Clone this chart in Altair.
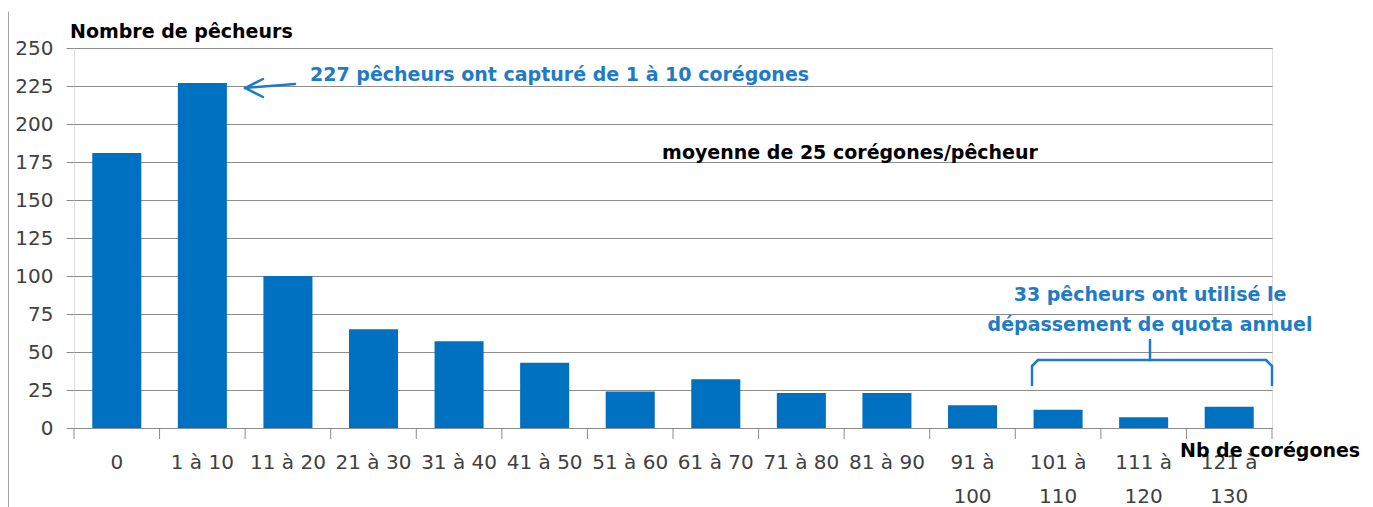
import altair as alt
import pandas as pd

categories = ["0", "1 à 10", "11 à 20", "21 à 30", "31 à 40", "41 à 50", "51 à 60",
              "61 à 70", "71 à 80", "81 à 90", "91 à 100", "101 à 110", "111 à 120", "121 à 130"]
fishers = [181, 227, 100, 65, 57, 43, 24, 32, 23, 23, 15, 12, 7, 14]
y_ticks = list(range(0, 251, 25))
boundaries = list(range(len(categories) + 1))

W, H = 1198, 380
FONT = "DejaVu Sans"
BAR = "#0070C0"
BLUE_TXT = "#1E7BC4"
GRID = "#8C8C8C"
LABEL = "#404040"

df = pd.DataFrame({"cat": categories, "n": fishers})

label_expr = ("length(datum.label) > 7 ? [slice(datum.label, 0, indexof(datum.label, 'à') + 1), "
              "slice(datum.label, indexof(datum.label, 'à') + 2)] : datum.label")

bars = alt.Chart(df).mark_bar(color=BAR).encode(
    x=alt.X("cat:N", sort=categories,
            scale=alt.Scale(paddingInner=0.427, paddingOuter=0.2135),
            axis=alt.Axis(title=None, labelAngle=0, ticks=False, domainColor=GRID, domainWidth=1,
                          labelPadding=24, labelFontSize=20, labelFont=FONT, labelColor=LABEL,
                          labelLineHeight=34, labelExpr=label_expr, labelLimit=200)),
    y=alt.Y("n:Q", scale=alt.Scale(domain=[0, 250], nice=False),
            axis=alt.Axis(values=y_ticks, title=None, tickSize=8, tickColor=GRID, gridColor=GRID,
                          gridOpacity=1, domain=False, labelPadding=13, labelFontSize=20,
                          labelFont=FONT, labelColor=LABEL)),
)

ticks = alt.Chart(pd.DataFrame({"b": boundaries})).mark_rule(color=GRID, strokeWidth=1).encode(
    x=alt.X("b:Q", scale=alt.Scale(domain=[0, len(categories)], nice=False), axis=None),
    y=alt.value(H), y2=alt.value(H + 11),
)

one = alt.Data(values=[{}])


def text(t, x, y, color="black", align="left", size=19, **kw):
    return alt.Chart(one).mark_text(text=t, font=FONT, fontSize=size, fontWeight="bold", color=color,
                                    align=align, baseline="middle", **kw).encode(
        x=alt.value(x), y=alt.value(y))


def seg(x, x2, y, y2, color=BLUE_TXT, width=2.5):
    return alt.Chart(one).mark_rule(color=color, strokeWidth=width, strokeCap="round").encode(
        x=alt.value(x), x2=alt.value(x2), y=alt.value(y), y2=alt.value(y2))


layers = [
    seg(-65.5, -65.5, -36, 460, color="#A6A6A6", width=1),
    bars,
    ticks,
    text("Nombre de pêcheurs", -4, -16),
    text("Nb de corégones", 1106, 403),
    text("moyenne de 25 corégones/pêcheur", 776, 105, align="center"),
    text("227 pêcheurs ont capturé de 1 à 10 corégones", 236, 27, color=BLUE_TXT),
    text(["33 pêcheurs ont utilisé le", "dépassement de quota annuel"], 1076, 247,
         color=BLUE_TXT, align="center", lineHeight=30),
    # arrow
    seg(171, 221, 40, 36),
    seg(171, 189, 40, 31),
    seg(171, 189, 40, 49),
    # brace
    seg(958, 958, 318, 337),
    seg(1198, 1198, 318, 337),
    seg(964, 1192, 312, 312),
    seg(958, 964, 318, 312),
    seg(1198, 1192, 318, 312),
    seg(1076, 1076, 312, 292),
]

chart = alt.layer(*layers).resolve_scale(x="independent").properties(
    width=W, height=H,
    autosize=alt.AutoSizeParams(type="none"),
    padding={"left": 66, "top": 40, "right": 90, "bottom": 79},
).configure_view(stroke=None).configure(background="white")

chart.save("out.html", embed_options={"renderer": "svg", "actions": False})
